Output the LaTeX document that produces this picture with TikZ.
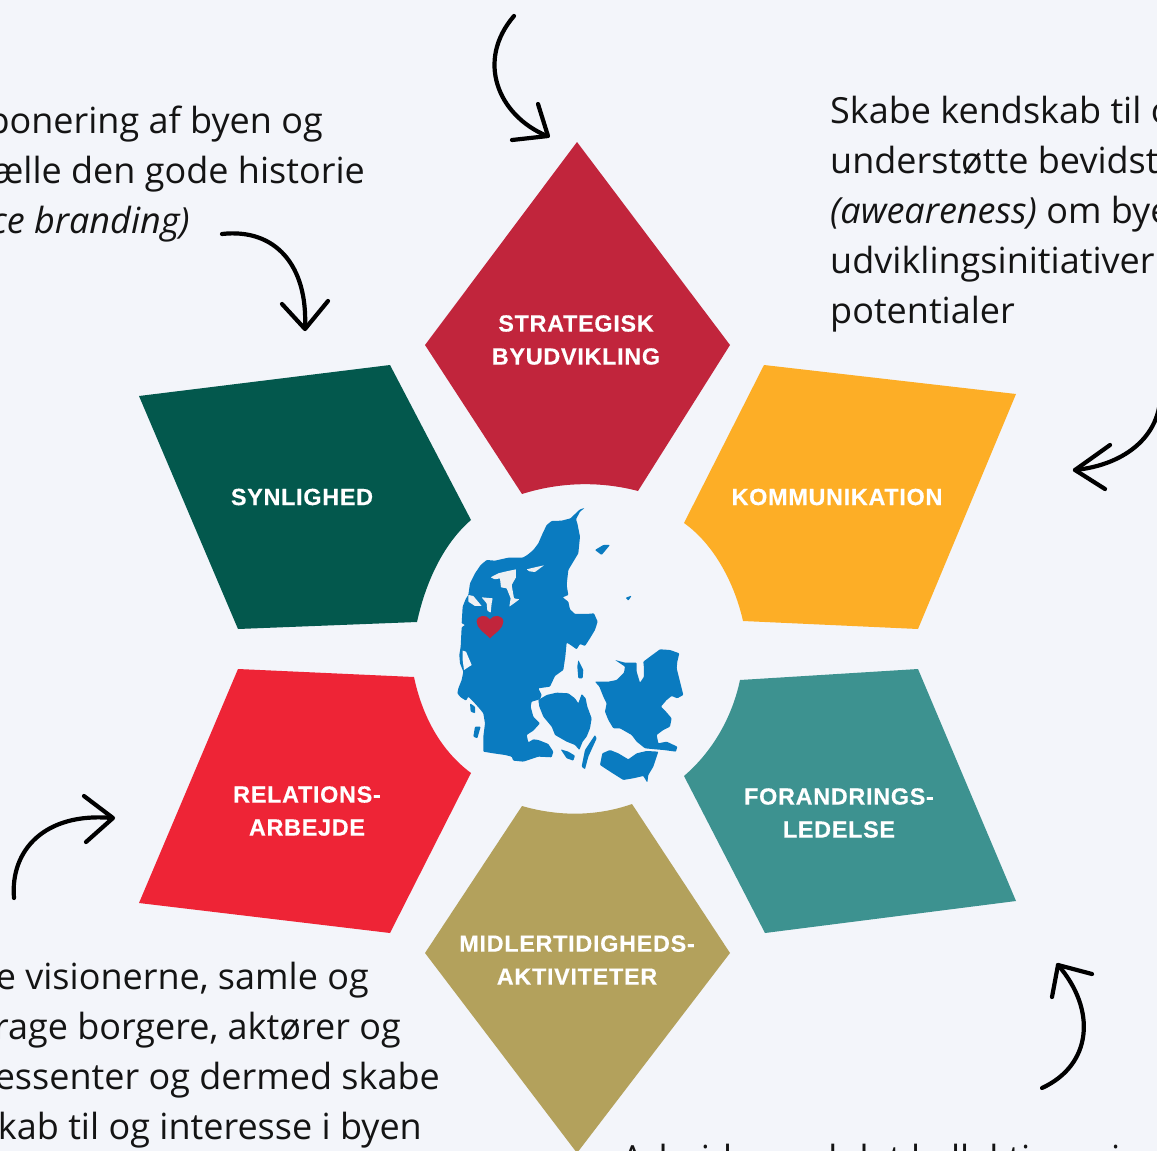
\documentclass[tikz,border=0pt]{standalone}
\usepackage{fontspec}
\setmainfont{Open Sans}
\newfontfamily\labelfont[LetterSpace=3,FakeBold=0.35]{Liberation Sans Bold}
\definecolor{pagebg}{HTML}{F3F5FA}
\definecolor{cstrat}{HTML}{C1253C}
\definecolor{ckomm}{HTML}{FDAE26}
\definecolor{csyn}{HTML}{03584D}
\definecolor{crel}{HTML}{EE2436}
\definecolor{cfor}{HTML}{3D9290}
\definecolor{cmid}{HTML}{B3A15C}
\definecolor{cmap}{HTML}{0A7BC0}
\definecolor{cfjord}{HTML}{EEF0F3}
\tikzset{
  petallabel/.style={text=white,font=\labelfont\fontsize{23.4}{33}\selectfont,align=center,anchor=center,inner sep=0pt},
  bodyline/.style={text=black!92,font=\fontsize{36}{50}\selectfont,inner sep=0pt},
  handarrow/.style={draw=black,line width=4.2pt,line cap=round,line join=round},
  mapshape/.style={fill=cmap,draw=none,rounded corners=0.8pt},
  fjord/.style={fill=cfjord,draw=none,rounded corners=0.5pt}
}
\begin{document}
\begin{tikzpicture}[x=1pt,y=-1pt]
\useasboundingbox (0,0) rectangle (1157,1151);
\clip (0,0) rectangle (1157,1151);
\fill[pagebg] (0,0) rectangle (1157,1151);

% petals
\fill[cstrat] (577,142) -- (730,345) -- (638,491) .. controls (600,481) and (560,482) .. (522,494) -- (425,345) -- cycle;
\fill[ckomm] (764,365) -- (1016,394) -- (918,629) -- (743,621) .. controls (735,585) and (715,545) .. (684,523) -- cycle;
\fill[csyn] (139,396) -- (390,365) -- (471,520) .. controls (442,545) and (425,585) .. (417,622) -- (238,629) -- cycle;
\fill[crel] (238,669) -- (414,677) .. controls (422,715) and (440,750) .. (471,773) -- (390,933) -- (139,903) -- cycle;
\fill[cfor] (918,669) -- (1016,901) -- (765,933) -- (684,776) .. controls (712,752) and (732,718) .. (740,680) -- cycle;
\fill[cmid] (522,806) .. controls (560,817) and (598,816) .. (632,804) -- (730,953) -- (577,1153) -- (425,953) -- cycle;

% labels
\node[petallabel] (strat) at (576,340) {STRATEGISK\\BYUDVIKLING};
\node[petallabel] (komm) at (837,497) {KOMMUNIKATION};
\node[petallabel] (syn) at (302,497) {SYNLIGHED};
\node[petallabel] (rel) at (307,811) {RELATIONS-\\ARBEJDE};
\node[petallabel] (for) at (839,813) {FORANDRINGS-\\LEDELSE};
\node[petallabel] (mid) at (577,960) {MIDLERTIDIGHEDS-\\AKTIVITETER};

% map of Denmark (traced in 3x crop coordinates)
\begin{scope}[shift={(440,490)},x=0.3333pt,y=-0.3333pt]
\fill[mapshape] (434,54) -- (420,58) -- (405,72) -- (392,85) -- (365,92) -- (335,93) -- (320,105) -- (308,130) -- (295,160) -- (280,180) -- (262,195) -- (248,203) -- (205,203) -- (165,212) -- (140,210) -- (122,225) -- (105,250) -- (90,280) -- (85,315) -- (78,325) -- (68,350) -- (65,400) -- (75,405) -- (65,412) -- (62,470) -- (58,495) -- (60,520) -- (70,545) -- (65,570) -- (55,595) -- (52,610) -- (62,622) -- (78,632) -- (85,620) -- (100,635) -- (118,655) -- (130,670) -- (135,700) -- (130,740) -- (130,785) -- (160,790) -- (195,795) -- (215,800) -- (220,812) -- (250,815) -- (295,800) -- (335,802) -- (340,785) -- (325,762) -- (295,750) -- (280,748) -- (265,757) -- (260,735) -- (280,722) -- (300,700) -- (280,680) -- (272,650) -- (275,635) -- (300,628) -- (305,615) -- (295,595) -- (330,590) -- (345,558) -- (370,540) -- (376,500) -- (380,458) -- (392,465) -- (410,478) -- (420,462) -- (435,468) -- (450,445) -- (465,420) -- (473,395) -- (462,370) -- (440,372) -- (405,372) -- (390,358) -- (385,335) -- (368,322) -- (385,315) -- (380,285) -- (385,240) -- (400,215) -- (415,190) -- (420,140) -- (412,100) -- (408,88) -- (420,65) -- cycle;
\fill[fjord] (85,315) -- (100,318) -- (125,348) -- (105,348) -- (85,335) -- cycle;
\fill[fjord] (125,322) -- (158,325) -- (155,340) -- (152,368) -- (142,362) -- (140,340) -- cycle;
\fill[fjord] (152,262) -- (175,250) -- (195,245) -- (228,238) -- (228,262) -- (215,285) -- (222,325) -- (238,328) -- (222,340) -- (208,350) -- (212,325) -- (200,295) -- (183,292) -- (180,265) -- (165,268) -- cycle;
\fill[fjord] (260,238) -- (285,232) -- (312,226) -- (285,246) -- (268,244) -- cycle;
\fill[pagebg] (68,482) -- (78,485) -- (95,525) -- (72,540) -- (68,510) -- cycle;
\fill[mapshape] (295,630) -- (320,615) -- (350,608) -- (385,610) -- (405,625) -- (415,640) -- (425,612) -- (437,625) -- (442,650) -- (455,685) -- (450,715) -- (440,740) -- (428,755) -- (418,780) -- (405,765) -- (380,755) -- (345,735) -- (335,710) -- (310,680) -- (298,650) -- cycle;
\fill[mapshape] (465,575) -- (505,575) -- (530,570) -- (552,548) -- (555,530) -- (525,510) -- (555,518) -- (590,518) -- (590,545) -- (600,578) -- (612,560) -- (612,535) -- (610,515) -- (630,500) -- (660,478) -- (690,480) -- (718,490) -- (712,515) -- (710,535) -- (720,575) -- (730,615) -- (712,625) -- (695,618) -- (680,630) -- (663,650) -- (678,665) -- (695,685) -- (690,710) -- (670,720) -- (650,735) -- (655,760) -- (680,755) -- (712,770) -- (708,785) -- (670,780) -- (645,778) -- (615,775) -- (590,755) -- (575,735) -- (540,715) -- (520,715) -- (505,690) -- (495,665) -- (500,640) -- (490,620) -- (478,590) -- cycle;
\fill[mapshape] (480,825) -- (487,790) -- (510,780) -- (535,790) -- (565,808) -- (590,790) -- (620,783) -- (655,785) -- (640,830) -- (625,855) -- (622,878) -- (610,858) -- (580,865) -- (550,870) -- (515,848) -- cycle;
\fill[mapshape] (465,735) -- (470,745) -- (445,800) -- (435,838) -- (425,830) -- (435,780) -- cycle;
\fill[mapshape] (362,778) -- (385,785) -- (405,797) -- (400,812) -- (380,805) -- cycle;
\fill[mapshape] (415,510) -- (430,540) -- (428,565) -- (415,565) -- (412,530) -- cycle;
\fill[mapshape] (465,180) -- (490,165) -- (510,165) -- (485,195) -- cycle;
\fill[mapshape] (557,323) -- (575,317) -- (565,332) -- cycle;
\fill[mapshape] (90,640) -- (105,650) -- (105,670) -- (92,665) -- cycle;
\fill[mapshape] (105,710) -- (122,710) -- (112,745) -- (100,740) -- cycle;
\fill[cstrat] (150,445) .. controls (130,425) and (110,415) .. (110,395) .. controls (110,375) and (140,372) .. (150,388) .. controls (160,372) and (190,375) .. (190,395) .. controls (190,415) and (170,425) .. (150,445) -- cycle;
\end{scope}

% body text
\node[bodyline,anchor=base east] (l1) at (323,133) {ponering af byen og};
\node[bodyline,anchor=base east] (l2) at (365,183) {ælle den gode historie};
\node[bodyline,anchor=base east] (l3) at (190,233) {\itshape ce branding)};
\node[bodyline,anchor=base west] (r1) at (830,123) {Skabe kendskab til o};
\node[bodyline,anchor=base west] (r2) at (830,173) {understøtte bevidst};
\node[bodyline,anchor=base west] (r3) at (830,223) {{\itshape (aweareness)} om bye};
\node[bodyline,anchor=base west] (r4) at (830,273) {udviklingsinitiativer};
\node[bodyline,anchor=base west] (r5) at (830,323) {potentialer};
\node[bodyline,anchor=base east] (b1) at (369,989) {e visionerne, samle og};
\node[bodyline,anchor=base east] (b2) at (401,1039) {rage borgere, aktører og};
\node[bodyline,anchor=base east] (b3) at (440,1089) {essenter og dermed skabe};
\node[bodyline,anchor=base east] (b4) at (422,1139) {kab til og interesse i byen};
\node[bodyline,anchor=base west] (br) at (621,1171) {Arbejde med det kollektive mi};

% hand-drawn arrows
\draw[handarrow] (514,16) .. controls (476,60) and (497,115) .. (547,136);
\draw[handarrow] (512,140) -- (548,136) -- (538,104);
\draw[handarrow] (222,234) .. controls (275,228) and (308,265) .. (305,328);
\draw[handarrow] (282,304) -- (305,329) -- (328,301);
\draw[handarrow] (1160,385) .. controls (1165,435) and (1125,465) .. (1075,470);
\draw[handarrow] (1110,445) -- (1075,470) -- (1105,489);
\draw[handarrow] (14,898) .. controls (10,850) and (45,812) .. (112,818);
\draw[handarrow] (84,796) -- (113,818) -- (86,842);
\draw[handarrow] (1042,1088) .. controls (1092,1065) and (1097,1010) .. (1058,965);
\draw[handarrow] (1052,997) -- (1058,965) -- (1092,974);
\end{tikzpicture}
\end{document}
